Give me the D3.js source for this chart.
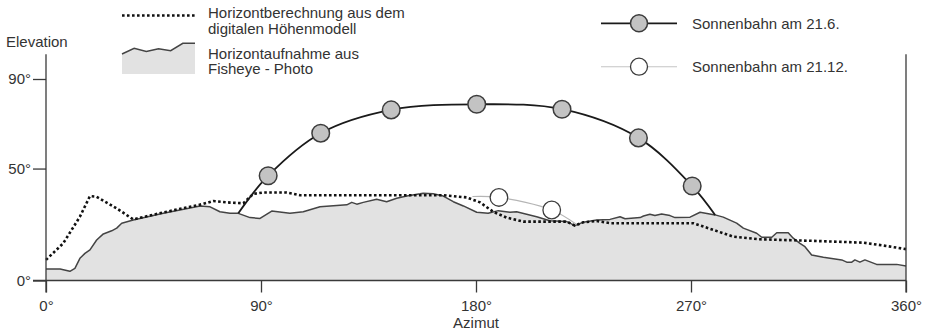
<!DOCTYPE html>
<html>
<head>
<meta charset="utf-8">
<script src="https://cdn.jsdelivr.net/npm/d3@7"></script>
<style>
  html, body { margin: 0; padding: 0; background: #fff; }
  svg { display: block; font-family: "Liberation Sans", Arial, Helvetica, sans-serif; }
</style>
</head>
<body>
<svg id="chart" width="932" height="332"></svg>
<script>
// Horizon: azimuth (°) / elevation (°)
const photoAz = [0,5.9,10,12.1,14.2,16.3,18.4,21.2,24,27.5,29.6,31.7,36.5,49.1,64.5,68.7,72.8,77,80.5,85.4,89.6,94.5,102.1,107.7,114.7,125.9,128,130.1,132.8,138.4,142.6,146.8,151,156.6,157.9,162.1,166.3,170.5,174.7,180.3,185.1,189.3,194.2,197,205.4,210.9,218,221.4,224.9,230.5,236.1,240.3,242.4,248.7,250.1,252.8,254.9,257.7,261.2,263.3,269.6,273.8,280.1,283.5,289.1,291.9,297.5,299.6,303.8,305.9,310.7,312.8,315.6,317.7,320.5,325.4,333.1,335.2,337.3,338.6,340.7,342.8,347.7,356.1,360];
const photoEl = [5.1,5.1,4.1,5.4,9.9,12.1,13.7,18.1,20.8,22.2,23.4,25.6,27.0,30.0,33.3,32.9,30.7,30.0,30.0,28.1,27.7,31.0,30.0,30.7,32.9,33.8,34.9,34.1,34.9,36.3,35.2,36.7,37.7,38.7,39.0,38.7,37.7,35.2,33.3,30.5,30.0,31.2,30.5,30.7,28.5,26.7,26.3,24.5,26.0,27.0,27.3,28.5,27.6,28.1,28.8,29.6,29.0,29.7,29.0,28.1,28.3,30.5,29.3,28.3,25.6,23.4,21.1,19.3,19.3,21.3,21.3,18.9,16.6,15.1,11.4,10.4,9.2,8.2,8.2,9.2,8.2,9.2,7.2,7.2,6.5];

// Horizon computed from the digital elevation model
const demAz = [0,7.2,14.2,18.4,21.2,29.6,36.5,49.1,65.8,70,77,82.6,86.8,91,100.8,106.3,166.3,176.1,181.7,187.2,192.8,199.8,218,221.4,224.9,230.5,236.1,271,287.7,298.9,321.2,342.1,351.9,360];
const demEl = [9.2,16.6,28.5,37.7,37.4,32.2,27.3,30.4,34.2,35.5,34.8,34.5,38.7,39.3,39.3,38.1,38.1,37.1,34.9,30.7,28.1,26.3,26.3,24.5,26.0,26.6,25.6,25.6,19.6,18.4,17.7,16.9,15.4,14.0];

// Sun path 21 June: first/last points are where it meets the horizon
const summerAz = [80.5,93,115,144.5,180.3,216,248,270.5,280.1];
const summerEl = [30.0,46.8,65.8,76.2,78.7,76.5,63.7,42.2,29.3];
const summerMarked = [false,true,true,true,true,true,true,true,false];

// Sun path 21 December
const winterAz = [178.5,189.6,211.7,222];
const winterEl = [37.5,37.1,31.5,25.1];
const winterMarked = [false,true,true,false];

const azTicks = [0,90,180,270,360];
const elTicks = [0,50,90];

const labels = {
  yTitle: "Elevation",
  xTitle: "Azimut",
  dem: ["Horizontberechnung aus dem", "digitalen Höhenmodell"],
  photo: ["Horizontaufnahme aus", "Fisheye - Photo"],
  summer: "Sonnenbahn am 21.6.",
  winter: "Sonnenbahn am 21.12."
};

const svg = d3.select("#chart");
const FONT = 15;
const TEXT = "#333";
const AXIS = "#3a3a3a";

const x = d3.scaleLinear().domain([0, 360]).range([46, 906]);
const y = d3.scaleLinear().domain([0, 90]).range([280.5, 79]);

const photo = photoAz.map((a, i) => ({az: a, el: photoEl[i]}));
const dem = demAz.map((a, i) => ({az: a, el: demEl[i]}));
const summer = summerAz.map((a, i) => ({az: a, el: summerEl[i], m: summerMarked[i]}));
const winter = winterAz.map((a, i) => ({az: a, el: winterEl[i], m: winterMarked[i]}));

// shaded terrain under the photographed horizon
svg.append("path")
  .datum(photo)
  .attr("fill", "#e2e2e2")
  .attr("d", d3.area().x(d => x(d.az)).y0(y(0)).y1(d => y(d.el)));

svg.append("path")
  .datum(photo)
  .attr("fill", "none")
  .attr("stroke", "#444")
  .attr("stroke-width", 1.5)
  .attr("stroke-linejoin", "round")
  .attr("d", d3.line().x(d => x(d.az)).y(d => y(d.el)));

// DEM horizon, dotted
svg.append("path")
  .datum(dem)
  .attr("fill", "none")
  .attr("stroke", "#111")
  .attr("stroke-width", 2.6)
  .attr("stroke-dasharray", "2.6 2.4")
  .attr("d", d3.line().x(d => x(d.az)).y(d => y(d.el)));

// axes
const axisG = svg.append("g").attr("stroke", AXIS).attr("stroke-width", 1.3);
axisG.append("line").attr("x1", 33).attr("x2", x(360)).attr("y1", y(0)).attr("y2", y(0));
axisG.append("line").attr("x1", x(0)).attr("x2", x(0)).attr("y1", y(101)).attr("y2", y(0) + 12);
axisG.append("line").attr("x1", x(360)).attr("x2", x(360)).attr("y1", y(101)).attr("y2", y(0) + 12);

const xAxis = svg.append("g")
  .attr("transform", `translate(0,${y(0)})`)
  .call(d3.axisBottom(x).tickValues(azTicks).tickSize(12).tickPadding(8).tickFormat(d => d + "°"));
xAxis.select(".domain").remove();
xAxis.selectAll("line").attr("stroke", AXIS).attr("stroke-width", 1.3);
xAxis.selectAll("text").attr("font-size", FONT).attr("font-family", null).attr("fill", TEXT);

const yAxis = svg.append("g")
  .attr("transform", `translate(${x(0)},0)`)
  .call(d3.axisLeft(y).tickValues(elTicks).tickSize(13).tickPadding(2).tickFormat(d => d + "°"));
yAxis.select(".domain").remove();
yAxis.selectAll("line").attr("stroke", AXIS).attr("stroke-width", 1.3);
yAxis.selectAll("text").attr("font-size", FONT).attr("font-family", null).attr("fill", TEXT);

svg.append("text").attr("x", 6).attr("y", 46.5).attr("font-size", FONT).attr("fill", TEXT).text(labels.yTitle);
svg.append("text").attr("x", x(180)).attr("y", 328).attr("text-anchor", "middle")
  .attr("font-size", FONT).attr("fill", TEXT).text(labels.xTitle);

// sun paths
const sunLine = d3.line().x(d => x(d.az)).y(d => y(d.el)).curve(d3.curveCatmullRom.alpha(0.5));

svg.append("path").datum(winter)
  .attr("fill", "none").attr("stroke", "#b5b5b5").attr("stroke-width", 1.1)
  .attr("d", sunLine);
svg.append("path").datum(summer)
  .attr("fill", "none").attr("stroke", "#1a1a1a").attr("stroke-width", 1.8)
  .attr("d", sunLine);

svg.append("g").selectAll("circle").data(summer.filter(d => d.m)).join("circle")
  .attr("cx", d => x(d.az)).attr("cy", d => y(d.el)).attr("r", 8.8)
  .attr("fill", "#c3c3c3").attr("stroke", "#3c3c3c").attr("stroke-width", 1.5);
svg.append("g").selectAll("circle").data(winter.filter(d => d.m)).join("circle")
  .attr("cx", d => x(d.az)).attr("cy", d => y(d.el)).attr("r", 8.8)
  .attr("fill", "#fff").attr("stroke", "#3c3c3c").attr("stroke-width", 1.3);

// legend: horizon entries
const lg = svg.append("g");
lg.append("line").attr("x1", 122).attr("x2", 195).attr("y1", 15.5).attr("y2", 15.5)
  .attr("stroke", "#111").attr("stroke-width", 2.6).attr("stroke-dasharray", "2.6 2.4");
lg.selectAll("text.dem").data(labels.dem).join("text").attr("class", "dem")
  .attr("x", 208).attr("y", (d, i) => 18 + i * 15.5).attr("font-size", FONT).attr("fill", TEXT).text(d => d);

// swatch: small terrain silhouette
const swatchProfile = [0.35, 0.16, 0.27, 0.18, 0.24, 0, 0];
const sx = d3.scaleLinear().domain([0, swatchProfile.length - 1]).range([122, 195]);
const sy = d3.scaleLinear().domain([0, 1]).range([43.3, 74]);
lg.append("path").datum(swatchProfile).attr("fill", "#e2e2e2")
  .attr("d", d3.area().x((d, i) => sx(i)).y0(sy(1)).y1(d => sy(d)));
lg.append("path").datum(swatchProfile).attr("fill", "none").attr("stroke", "#444").attr("stroke-width", 1.5)
  .attr("d", d3.line().x((d, i) => sx(i)).y(d => sy(d)));
lg.selectAll("text.photo").data(labels.photo).join("text").attr("class", "photo")
  .attr("x", 208).attr("y", (d, i) => 58.5 + i * 15.5).attr("font-size", FONT).attr("fill", TEXT).text(d => d);

// legend: sun paths
const sl = svg.append("g");
sl.append("line").attr("x1", 601).attr("x2", 677).attr("y1", 23.3).attr("y2", 23.3)
  .attr("stroke", "#1a1a1a").attr("stroke-width", 1.8);
sl.append("circle").attr("cx", 639).attr("cy", 23.3).attr("r", 8.5)
  .attr("fill", "#c3c3c3").attr("stroke", "#3c3c3c").attr("stroke-width", 1.5);
sl.append("text").attr("x", 692).attr("y", 28.5).attr("font-size", FONT).attr("fill", TEXT).text(labels.summer);
sl.append("line").attr("x1", 601).attr("x2", 677).attr("y1", 66.7).attr("y2", 66.7)
  .attr("stroke", "#c4c4c4").attr("stroke-width", 1.1);
sl.append("circle").attr("cx", 639).attr("cy", 66.7).attr("r", 8.5)
  .attr("fill", "#fff").attr("stroke", "#3c3c3c").attr("stroke-width", 1.3);
sl.append("text").attr("x", 692).attr("y", 72).attr("font-size", FONT).attr("fill", TEXT).text(labels.winter);
</script>
</body>
</html>
